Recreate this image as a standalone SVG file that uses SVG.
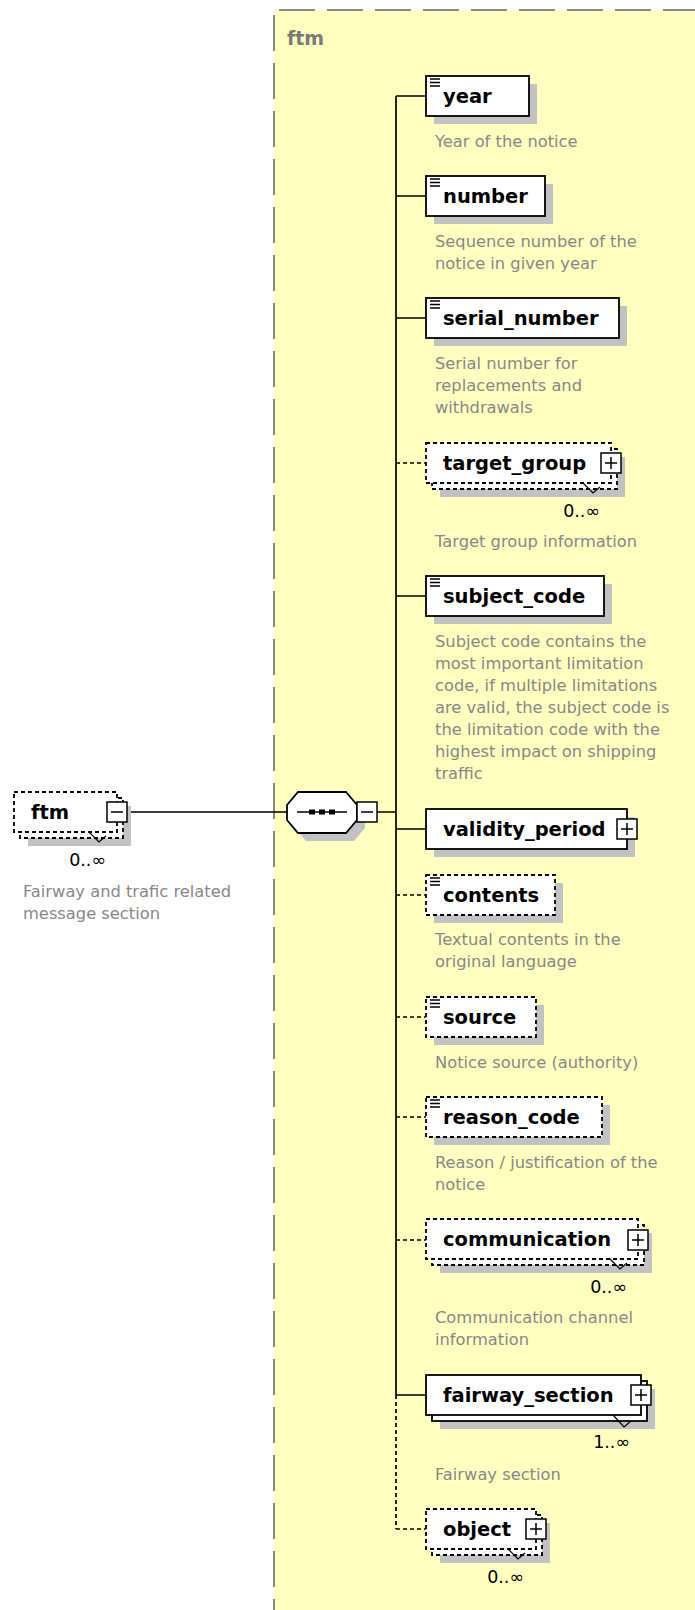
<svg xmlns="http://www.w3.org/2000/svg" width="695" height="1610" viewBox="0 0 695 1610">
<style>
.box{fill:#fff;stroke:#000;stroke-width:1.8}
.opt{stroke-dasharray:4 3}
.sh{fill:#c2c2c2}
.lbl{font-family:"DejaVu Sans",sans-serif;font-weight:bold;font-size:19.5px;fill:#000}
.desc{font-family:"DejaVu Sans",sans-serif;font-size:16.3px;fill:#888}
.occ{font-family:"DejaVu Sans",sans-serif;font-size:17.5px;fill:#000}
.ln{stroke:#000;stroke-width:1.7;fill:none}
.dl{stroke-dasharray:4 3}
.btn{fill:#fff;stroke:#000;stroke-width:1.5}
.ico{stroke:#000;stroke-width:1.5}
.notch{stroke:#000;stroke-width:1.2;fill:none}
</style>
<defs>
<g id="leaf"><path class="ico" d="M0,0H10M0,3.5H10M0,7H10"/></g>
<g id="plus"><rect class="btn" x="-10" y="-10" width="20" height="20"/><path class="ico" d="M-6,0H6M0,-6V6"/></g>
<g id="minus"><rect class="btn" x="-10" y="-10" width="20" height="20"/><path class="ico" d="M-6,0H6"/></g>
</defs>
<rect width="695" height="1610" fill="#fff"/>
<g id="ftm-model">
<rect x="274" y="10" width="421" height="1600" fill="#FFFFC0"/>
<path d="M274,10H695M274,10V1610" stroke="#8a8a8a" stroke-width="2" stroke-dasharray="36 12" stroke-dashoffset="-5" fill="none"/>
<text x="287" y="45" font-family="DejaVu Sans,sans-serif" font-weight="bold" font-size="19px" fill="#7a7a7a">ftm</text>
</g>
<g id="connectors">
<path class="ln" d="M127,812H287M377,812H396M396,96V1395M396,96H426M396,196H426M396,318H426M396,596H426M396,829H426M396,1395H426"/>
<path class="ln dl" d="M396,1395V1529M396,463H426M396,895H426M396,1017H426M396,1117H426M396,1240H426M396,1529H426"/>
</g>
<g id="ftm">
<rect class="sh" x="28" y="806" width="103" height="40"/>
<rect class="box opt" x="20" y="798" width="103" height="40"/>
<rect class="box opt" x="14" y="792" width="103" height="40"/>
<path class="notch" d="M89,832L99,842L106,836"/>
<use href="#minus" x="117" y="812"/>
<text class="lbl" x="31" y="819">ftm</text>
<text class="occ" x="106" y="866" text-anchor="end">0..∞</text>
<text class="desc" x="23" y="897">Fairway and trafic related</text>
<text class="desc" x="23" y="919">message section</text>
</g>
<g id="sequence">
<path class="sh" d="M306,800H354L365,813V828L354,841H306L295,828V813Z"/>
<path class="box" d="M298,792H346L357,805V820L346,833H298L287,820V805Z"/>
<path class="ln" d="M297,812H347"/>
<rect x="309" y="809.5" width="6" height="5" fill="#000"/>
<rect x="319" y="809.5" width="6" height="5" fill="#000"/>
<rect x="329" y="809.5" width="6" height="5" fill="#000"/>
<use href="#minus" x="367" y="812"/>
</g>
<g id="year">
<rect class="sh" x="434" y="84" width="103" height="40"/>
<rect class="box" x="426" y="76" width="103" height="40"/>
<use href="#leaf" x="430" y="79"/>
<text class="lbl" x="443" y="103">year</text>
<text class="desc" x="435" y="147">Year of the notice</text>
</g>
<g id="number">
<rect class="sh" x="434" y="184" width="119" height="40"/>
<rect class="box" x="426" y="176" width="119" height="40"/>
<use href="#leaf" x="430" y="179"/>
<text class="lbl" x="443" y="203">number</text>
<text class="desc" x="435" y="247">Sequence number of the</text>
<text class="desc" x="435" y="269">notice in given year</text>
</g>
<g id="serial_number">
<rect class="sh" x="434" y="306" width="193" height="40"/>
<rect class="box" x="426" y="298" width="193" height="40"/>
<use href="#leaf" x="430" y="301"/>
<text class="lbl" x="443" y="325">serial_number</text>
<text class="desc" x="435" y="369">Serial number for</text>
<text class="desc" x="435" y="391">replacements and</text>
<text class="desc" x="435" y="413">withdrawals</text>
</g>
<g id="target_group">
<rect class="sh" x="440" y="457" width="185" height="40"/>
<rect class="box opt" x="432" y="449" width="185" height="40"/>
<rect class="box opt" x="426" y="443" width="185" height="40"/>
<path class="notch" d="M583,483L593,493L600,487"/>
<use href="#plus" x="611" y="463"/>
<text class="lbl" x="443" y="470">target_group</text>
<text class="occ" x="600" y="517" text-anchor="end">0..∞</text>
<text class="desc" x="435" y="547">Target group information</text>
</g>
<g id="subject_code">
<rect class="sh" x="434" y="584" width="178" height="40"/>
<rect class="box" x="426" y="576" width="178" height="40"/>
<use href="#leaf" x="430" y="579"/>
<text class="lbl" x="443" y="603">subject_code</text>
<text class="desc" x="435" y="647">Subject code contains the</text>
<text class="desc" x="435" y="669">most important limitation</text>
<text class="desc" x="435" y="691">code, if multiple limitations</text>
<text class="desc" x="435" y="713">are valid, the subject code is</text>
<text class="desc" x="435" y="735">the limitation code with the</text>
<text class="desc" x="435" y="757">highest impact on shipping</text>
<text class="desc" x="435" y="779">traffic</text>
</g>
<g id="validity_period">
<rect class="sh" x="434" y="817" width="201" height="40"/>
<rect class="box" x="426" y="809" width="201" height="40"/>
<use href="#plus" x="627" y="829"/>
<text class="lbl" x="443" y="836">validity_period</text>
</g>
<g id="contents">
<rect class="sh" x="434" y="883" width="129" height="40"/>
<rect class="box opt" x="426" y="875" width="129" height="40"/>
<use href="#leaf" x="430" y="878"/>
<text class="lbl" x="443" y="902">contents</text>
<text class="desc" x="435" y="945">Textual contents in the</text>
<text class="desc" x="435" y="967">original language</text>
</g>
<g id="source">
<rect class="sh" x="434" y="1005" width="110" height="40"/>
<rect class="box opt" x="426" y="997" width="110" height="40"/>
<use href="#leaf" x="430" y="1000"/>
<text class="lbl" x="443" y="1024">source</text>
<text class="desc" x="435" y="1068">Notice source (authority)</text>
</g>
<g id="reason_code">
<rect class="sh" x="434" y="1105" width="176" height="40"/>
<rect class="box opt" x="426" y="1097" width="176" height="40"/>
<use href="#leaf" x="430" y="1100"/>
<text class="lbl" x="443" y="1124">reason_code</text>
<text class="desc" x="435" y="1168">Reason / justification of the</text>
<text class="desc" x="435" y="1190">notice</text>
</g>
<g id="communication">
<rect class="sh" x="440" y="1233" width="212" height="40"/>
<rect class="box opt" x="432" y="1225" width="212" height="40"/>
<rect class="box opt" x="426" y="1219" width="212" height="40"/>
<path class="notch" d="M610,1259L620,1269L627,1263"/>
<use href="#plus" x="638" y="1240"/>
<text class="lbl" x="443" y="1246">communication</text>
<text class="occ" x="627" y="1293" text-anchor="end">0..∞</text>
<text class="desc" x="435" y="1323">Communication channel</text>
<text class="desc" x="435" y="1345">information</text>
</g>
<g id="fairway_section">
<rect class="sh" x="440" y="1389" width="215" height="40"/>
<rect class="box" x="432" y="1381" width="215" height="40"/>
<rect class="box" x="426" y="1375" width="215" height="40"/>
<path class="notch" d="M613,1415L624,1427L631,1421"/>
<use href="#plus" x="641" y="1395"/>
<text class="lbl" x="443" y="1402">fairway_section</text>
<text class="occ" x="630" y="1448" text-anchor="end">1..∞</text>
<text class="desc" x="435" y="1480">Fairway section</text>
</g>
<g id="object">
<rect class="sh" x="440" y="1523" width="110" height="40"/>
<rect class="box opt" x="432" y="1515" width="110" height="40"/>
<rect class="box opt" x="426" y="1509" width="110" height="40"/>
<path class="notch" d="M508,1549L518,1559L525,1553"/>
<use href="#plus" x="536" y="1529"/>
<text class="lbl" x="443" y="1536">object</text>
<text class="occ" x="524" y="1583" text-anchor="end">0..∞</text>
</g>
</svg>
